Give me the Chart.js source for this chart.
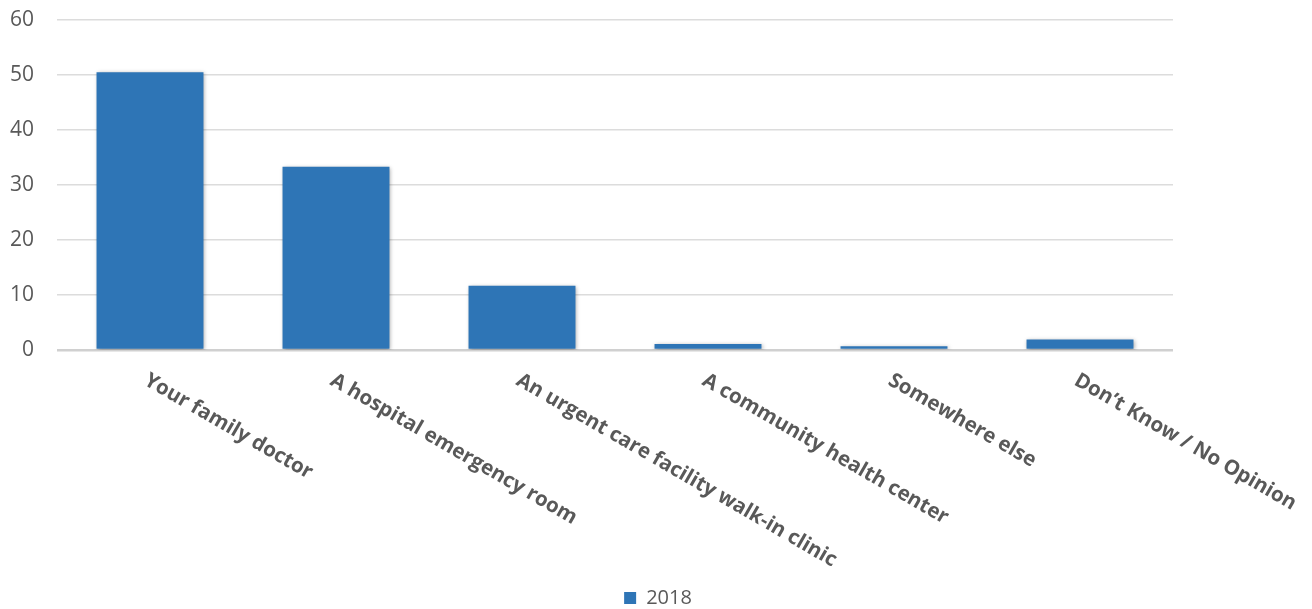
<!DOCTYPE html>
<html>
<head>
<meta charset="utf-8">
<script src="https://cdn.jsdelivr.net/npm/chart.js@4/dist/chart.umd.min.js"></script>
<style>
html,body{margin:0;padding:0;background:#fff;}
#wrap{width:1312px;height:609px;position:relative;}
</style>
</head>
<body>
<div id="wrap"><canvas id="c" width="1312" height="609"></canvas></div>
<script>
const categories = ["Your family doctor", "A hospital emergency room", "An urgent care facility walk-in clinic", "A community health center", "Somewhere else", "Don\u2019t Know / No Opinion"];
const seriesName = "2018";
const values2018 = [50.5, 33.3, 11.7, 1.1, 0.7, 1.9];
const yTicks = [0, 10, 20, 30, 40, 50, 60];

const barColor = "#2E75B6";
const textColor = "#595959";

const shadowPlugin = {
  id: "barShadow",
  beforeDatasetsDraw(chart) {
    const ctx = chart.ctx;
    ctx.save();
    ctx.shadowColor = "rgba(0,0,0,0.35)";
    ctx.shadowBlur = 4;
    ctx.shadowOffsetX = 1;
    ctx.shadowOffsetY = 1;
  },
  afterDatasetsDraw(chart) {
    chart.ctx.restore();
  }
};

const rotatedLabels = {
  id: "rotatedLabels",
  afterDraw(chart) {
    const ctx = chart.ctx;
    const xs = chart.scales.x;
    const bottom = chart.chartArea.bottom;
    ctx.save();
    ctx.fillStyle = textColor;
    ctx.font = "bold 20.5px 'Open Sans'";
    ctx.textAlign = "left";
    ctx.textBaseline = "top";
    categories.forEach((lab, i) => {
      const x = xs.getPixelForTick(i);
      ctx.save();
      ctx.translate(x + 1, bottom + 20);
      ctx.rotate(30 * Math.PI / 180);
      ctx.fillText(lab, 0, 0);
      ctx.restore();
    });
    ctx.restore();
  }
};

function noOverhang(scale) {
  scale.paddingTop = 0;
  scale.paddingBottom = 0;
}

new Chart(document.getElementById("c"), {
  type: "bar",
  data: {
    labels: categories,
    datasets: [{
      label: seriesName,
      data: values2018,
      backgroundColor: barColor,
      borderWidth: 0,
      barPercentage: 0.575,
      categoryPercentage: 1.0
    }]
  },
  options: {
    responsive: false,
    animation: false,
    devicePixelRatio: 1,
    layout: { padding: { top: 20, right: 0, left: 4, bottom: -9 } },
    plugins: {
      legend: {
        position: "bottom",
        labels: {
          color: textColor,
          font: { family: "'Open Sans'", size: 20 },
          boxWidth: 12,
          boxHeight: 12,
          padding: 1
        }
      },
      tooltip: { enabled: false }
    },
    scales: {
      x: {
        grid: { display: false, drawTicks: false },
        border: { display: false },
        ticks: { display: false },
        afterFit(scale) { scale.height = 237; }
      },
      y: {
        min: 0,
        max: 60,
        afterBuildTicks(scale) { scale.ticks = yTicks.map(v => ({ value: v })); },
        afterFit(scale) { scale.width = 53; noOverhang(scale); },
        ticks: {
          color: textColor,
          font: { family: "'Open Sans'", size: 21 },
          padding: 23
        },
        grid: {
          color: (ctx) => ctx.tick && ctx.tick.value === 0 ? "#d0d0d0" : "#dcdcdc",
          lineWidth: (ctx) => ctx.tick && ctx.tick.value === 0 ? 2.5 : 1.5,
          drawTicks: false
        },
        border: { display: false }
      },
      yRight: {
        position: "right",
        grid: { display: false, drawTicks: false },
        border: { display: false },
        ticks: { display: false },
        afterFit(scale) { scale.width = 139; noOverhang(scale); }
      }
    }
  },
  plugins: [shadowPlugin, rotatedLabels]
});
</script>
</body>
</html>
